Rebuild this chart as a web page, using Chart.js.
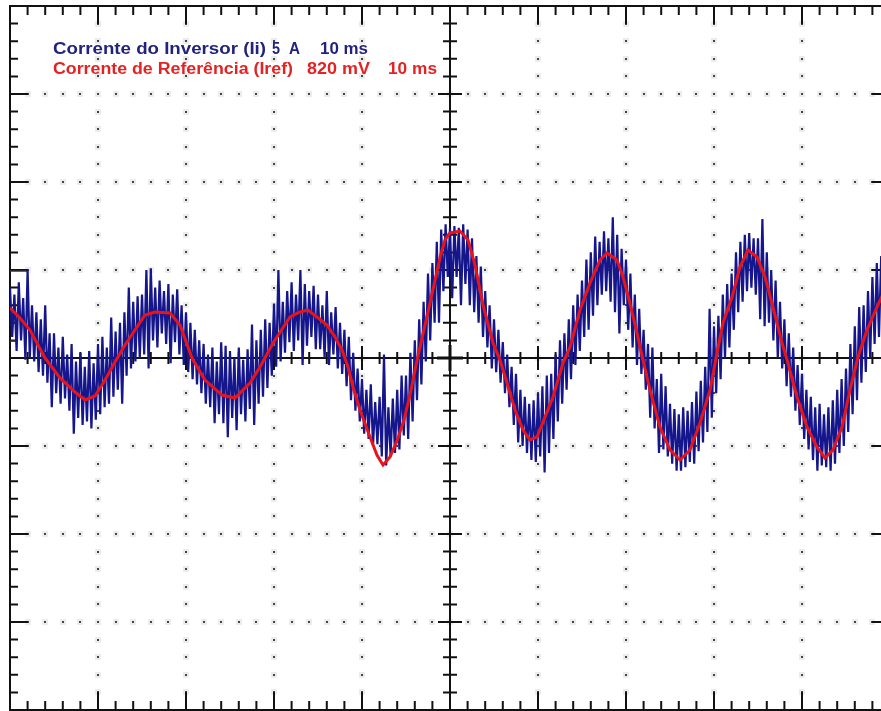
<!DOCTYPE html>
<html>
<head>
<meta charset="utf-8">
<title>Corrente do Inversor e Corrente de Referência</title>
<script src="https://cdn.jsdelivr.net/npm/chart.js@4.4.1/dist/chart.umd.min.js"></script>
<style>
  html, body { margin: 0; padding: 0; background: #ffffff; overflow: hidden; }
  #wrap { width: 900px; height: 711px; }
  canvas { display: block; }
</style>
</head>
<body>
<div id="wrap"><canvas id="scope" width="900" height="711"></canvas></div>
<script>
// Screen: 10 divisions of 10 ms, 8 divisions of 5 A (channel 1) / 820 mV (channel 2)
const timePerDivMs = 10;
const ampsPerDiv = 5;
const mvPerDiv = 820;
const hDivs = 10;
const vDivs = 8;

// Channel 2: reference current Ir.ef (mV) at the given instants (ms)
const redTimeMs = [
  0, 1.14, 2.27, 3.98, 5.68, 7.39, 8.52, 9.66, 10.8, 11.93,
  13.07, 14.2, 15.34, 16.48, 18.18, 19.32, 20.68, 22.16, 24.09, 25.57,
  27.27, 28.41, 29.89, 31.82, 32.95, 33.86, 34.89, 36.02, 36.93, 37.73,
  38.41, 38.98, 39.77, 40.91, 41.7, 42.39, 43.18, 43.98, 44.77, 45.45,
  46.14, 46.82, 47.5, 48.18, 48.86, 49.43, 50.0, 51.14, 52.05, 52.84,
  53.75, 54.89, 55.68, 56.48, 57.39, 58.3, 59.09, 59.89, 60.8, 61.7,
  62.84, 63.64, 64.77, 65.91, 67.05, 67.84, 68.98, 69.66, 70.45, 71.25,
  71.93, 72.73, 73.86, 75.0, 76.14, 77.27, 78.41, 79.55, 80.34, 81.02,
  82.05, 82.95, 83.86, 84.89, 85.8, 86.7, 87.73, 88.41, 89.43, 90.57,
  91.7, 92.61, 93.52, 94.55, 95.45, 96.36, 97.39, 98.52, 99.43
];
const redMv = [
  466, 373, 261, 0, -186, -317, -391, -354, -205, -37,
  121, 261, 401, 429, 419, 307, 0, -205, -345, -373,
  -233, -84, 140, 382, 429, 447, 382, 307, 196, 75,
  -84, -270, -485, -736, -904, -997, -922, -773, -578, -345,
  -65, 186, 429, 680, 932, 1100, 1165, 1183, 1100, 867,
  494, 140, -19, -233, -485, -671, -764, -736, -550, -363,
  -47, 102, 447, 699, 913, 978, 913, 755, 512, 233,
  -19, -298, -643, -857, -950, -857, -606, -298, 47, 326,
  568, 848, 1006, 941, 755, 475, 140, -47, -363, -643,
  -829, -932, -857, -643, -298, 9, 261, 475, 634
];

// Channel 1: inverter current Ii (A), one high and one low sample per 0.5 ms step
const blueStepMs = 0.5;
const blueHighA = [
  4.0, 3.6, 4.3, 3.4, 5.0, 3.0, 2.6, 2.2, 3.0, 1.4,
  1.4, 0.6, 1.2, 0.2, 0.8, -0.2, 0.3, -0.5, 0.4, -0.3,
  0.8, 1.2, 0.6, 2.3, 1.5, 2.0, 2.6, 4.0, 3.2, 3.5,
  3.6, 5.0, 5.1, 4.0, 4.4, 3.8, 4.2, 3.6, 3.9, 3.0,
  2.6, 2.0, 1.6, 1.0, 0.8, 0.2, 0.6, -0.2, 0.9, 0.7,
  0.4, 0.0, 0.6, -0.1, 0.5, 1.9, 1.0, 1.6, 2.2, 2.0,
  3.1, 5.0, 3.2, 3.8, 4.3, 3.6, 5.0, 4.2, 3.8, 4.1,
  3.6, 3.0, 3.8, 2.6, 2.9, 2.0, 1.6, 1.2, 0.3, -0.6,
  -1.2, -1.8, -1.5, -2.5, -2.2, 0.2, -2.8, -2.3, -1.8, -1.0,
  -1.0, 0.3, 1.0, 2.2, 3.2, 4.8, 5.4, 6.6, 7.3, 7.6,
  7.4, 7.5, 7.4, 7.6, 7.3, 6.8, 5.8, 5.2, 3.8, 3.0,
  2.2, 1.6, 0.9, 0.2, -0.5, -0.9, -1.8, -2.2, -2.6, -2.4,
  -2.0, -1.6, -1.0, -0.9, 0.2, 1.0, 1.4, 2.2, 3.0, 3.6,
  4.4, 5.6, 6.0, 6.9, 6.6, 7.2, 6.8, 8.0, 7.0, 6.2,
  5.6, 4.8, 3.6, 2.8, 1.6, 0.8, 0.6, -1.2, -0.9, -1.6,
  -2.6, -2.9, -3.2, -2.8, -3.0, -2.5, -1.9, -1.3, -0.5, 2.8,
  1.8, 2.4, 3.6, 4.2, 4.8, 6.0, 6.6, 7.0, 7.1, 6.8,
  6.8, 7.9, 6.0, 5.0, 4.4, 3.2, 2.2, 1.4, 0.6, -0.4,
  -0.9, -1.8, -2.2, -2.8, -2.6, -3.2, -2.8, -2.4, -1.8, -1.2,
  -0.6, 0.8, 1.8, 2.9, 3.0, 3.8, 4.6, 5.4, 5.8, 6.0
];
const blueLowA = [
  1.2, 0.4, 1.0, -0.1, 0.0, -0.2, -0.8, -1.0, -1.4, -2.8,
  -2.0, -2.6, -2.3, -3.0, -4.3, -3.4, -3.8, -3.6, -4.0, -3.5,
  -3.2, -2.8, -2.6, -2.2, -1.8, -2.6, -1.0, -0.6, -0.2, 0.0,
  0.2, -0.6, 1.0, 0.6, 1.4, 0.8, -0.3, 0.9, 0.2, -0.4,
  -0.8, -1.2, -1.5, -2.0, -2.6, -2.8, -3.7, -3.2, -3.7, -4.5,
  -3.4, -4.1, -3.2, -3.6, -2.9, -3.8, -2.6, -2.2, -1.7, -1.0,
  -0.5, -0.2, 0.3, 0.9, 0.4, 1.0, -0.4, 0.7, 1.2, 0.5,
  0.5, 0.0, -0.4, 0.2, -0.6, -0.9, -1.6, -2.4, -3.0, -3.6,
  -4.3, -4.6, -5.0, -4.9, -5.6, -6.1, -5.6, -5.4, -5.2, -4.4,
  -4.6, -3.6, -2.4, -1.5, -0.2, 1.0, 2.0, 2.0, 3.8, 4.6,
  3.4, 4.6, 3.0, 4.2, 3.0, 2.6, 2.0, 1.2, 0.6, -0.6,
  -0.8, -1.4, -2.0, -2.8, -3.8, -4.8, -5.0, -5.4, -5.8, -5.9,
  -5.6, -6.5, -5.4, -4.6, -3.6, -2.6, -1.8, -1.2, -0.4, 0.4,
  1.2, 1.6, 2.4, 3.0, 3.6, 3.8, 3.2, 2.6, 1.4, 3.0,
  1.6, 0.6, -0.4, -0.9, -1.8, -3.4, -4.0, -5.4, -5.2, -5.6,
  -6.0, -6.4, -6.4, -6.2, -5.9, -6.0, -5.3, -4.8, -4.2, -3.4,
  -2.0, -1.2, 0.0, 0.6, 1.6, 2.6, 3.2, 3.8, 4.0, 3.6,
  2.2, 1.8, 2.0, 1.0, 0.0, -0.6, -1.6, -2.2, -3.0, -3.8,
  -4.6, -5.2, -5.8, -6.4, -6.1, -6.2, -6.4, -6.0, -5.4, -5.0,
  -4.2, -3.2, -2.4, -1.4, -0.8, 0.0, 0.8, 1.2, 1.8, 2.2
];

// Channel labels shown in the upper-left corner
const channelLabels = [
  { color: '#23237e', parts: [
    { text: 'Corrente do Inversor (Ii)', x: 53, w: 213 },
    { text: '5', x: 272, w: 8 },
    { text: 'A', x: 289, w: 11 },
    { text: '10 ms', x: 320, w: 48 }
  ], baseline: 54 },
  { color: '#e42222', parts: [
    { text: 'Corrente de Referência (Iref)', x: 53, w: 240 },
    { text: '820 mV', x: 307, w: 63 },
    { text: '10 ms', x: 388, w: 49 }
  ], baseline: 74 }
];

// Build the point lists
const redPoints = redTimeMs.map((t, i) => ({ x: t, y: redMv[i] }));
const bluePoints = [];
blueHighA.forEach((hi, i) => {
  bluePoints.push({ x: i * blueStepMs, y: hi });
  bluePoints.push({ x: i * blueStepMs + blueStepMs / 2, y: blueLowA[i] });
});

// Oscilloscope graticule: border, centre axes with ticks, dotted division lines
const graticule = {
  id: 'graticule',
  beforeDatasetsDraw(chart) {
    const { ctx, scales } = chart;
    const sx = scales.x, sy = scales.y;
    const xMin = 0, xMax = hDivs * timePerDivMs;
    const yMax = vDivs / 2 * ampsPerDiv, yMin = -yMax;
    const xMinor = timePerDivMs / 5, yMinor = ampsPerDiv / 5;
    const L = sx.getPixelForValue(xMin), R = sx.getPixelForValue(xMax);
    const T = sy.getPixelForValue(yMax), B = sy.getPixelForValue(yMin);
    const cx = sx.getPixelForValue(xMax / 2), cy = sy.getPixelForValue(0);
    ctx.save();
    // dotted division lines (soft halo, then the dot)
    const dot = (px, py) => {
      ctx.fillStyle = '#ececec';
      ctx.fillRect(Math.round(px) - 3, Math.round(py) - 3, 6, 6);
      ctx.fillStyle = '#444444';
      ctx.fillRect(Math.round(px) - 1, Math.round(py) - 1, 2, 2);
    };
    for (let d = 1; d < hDivs; d++) {
      if (d === hDivs / 2) continue;
      const px = sx.getPixelForValue(d * timePerDivMs);
      for (let k = 1; k < vDivs * 5; k++) {
        dot(px, sy.getPixelForValue(yMin + k * yMinor));
      }
    }
    for (let d = 1; d < vDivs; d++) {
      if (d === vDivs / 2) continue;
      const py = sy.getPixelForValue(yMin + d * ampsPerDiv);
      for (let k = 1; k < hDivs * 5; k++) {
        dot(sx.getPixelForValue(k * xMinor), py);
      }
    }
    ctx.strokeStyle = '#111111';
    ctx.lineWidth = 2;
    ctx.beginPath();
    // centre axes
    ctx.moveTo(L, cy); ctx.lineTo(R, cy);
    ctx.moveTo(cx, T); ctx.lineTo(cx, B);
    // ticks along the centre horizontal axis
    for (let k = 1; k < hDivs * 5; k++) {
      const px = sx.getPixelForValue(k * xMinor);
      const len = (k % 5 === 0) ? 12 : 6;
      ctx.moveTo(px, cy - len); ctx.lineTo(px, cy + len);
    }
    // ticks along the centre vertical axis
    for (let k = 1; k < vDivs * 5; k++) {
      const py = sy.getPixelForValue(yMin + k * yMinor);
      const len = (k % 5 === 0) ? 12 : 7;
      ctx.moveTo(cx - len, py); ctx.lineTo(cx + len, py);
    }
    // border ticks
    for (let k = 1; k < hDivs * 5; k++) {
      const px = sx.getPixelForValue(k * xMinor);
      const len = (k % 5 === 0) ? 18 : 9;
      ctx.moveTo(px, T); ctx.lineTo(px, T + len);
      ctx.moveTo(px, B); ctx.lineTo(px, B - len);
    }
    for (let k = 1; k < vDivs * 5; k++) {
      const py = sy.getPixelForValue(yMin + k * yMinor);
      const len = (k % 5 === 0) ? 18 : 8;
      ctx.moveTo(L, py); ctx.lineTo(L + len, py);
      ctx.moveTo(R, py); ctx.lineTo(R - len, py);
    }
    ctx.stroke();
    // border
    ctx.lineWidth = 2;
    ctx.strokeRect(L, T, R - L, B - T);
    // thicker centre cross
    ctx.lineWidth = 3;
    ctx.beginPath();
    ctx.moveTo(cx - 13, cy); ctx.lineTo(cx + 13, cy);
    ctx.moveTo(cx, cy - 13); ctx.lineTo(cx, cy + 13);
    ctx.stroke();
    // channel 1 ground marker
    ctx.lineWidth = 1.5;
    ctx.strokeStyle = '#333333';
    ctx.beginPath();
    ctx.moveTo(L, 271); ctx.lineTo(L + 17, 271);
    ctx.moveTo(L, 341); ctx.lineTo(L + 8, 341);
    ctx.stroke();
    ctx.restore();
  },
  afterDraw(chart) {
    const { ctx } = chart;
    ctx.save();
    ctx.font = 'bold 16px "Liberation Sans", Arial, sans-serif';
    ctx.textBaseline = 'alphabetic';
    channelLabels.forEach(line => {
      ctx.fillStyle = line.color;
      line.parts.forEach(p => {
        const w = ctx.measureText(p.text).width;
        ctx.save();
        ctx.translate(p.x, line.baseline);
        ctx.scale(p.w / w, 1);
        ctx.fillText(p.text, 0, 0);
        ctx.restore();
      });
    });
    ctx.restore();
  }
};

new Chart(document.getElementById('scope'), {
  type: 'line',
  data: {
    datasets: [
      {
        label: 'Corrente de Referência (Iref)',
        data: redPoints,
        yAxisID: 'y2',
        borderColor: '#e8141c',
        borderWidth: 3,
        pointRadius: 0,
        tension: 0,
        order: 1
      },
      {
        label: 'Corrente do Inversor (Ii)',
        data: bluePoints,
        yAxisID: 'y',
        borderColor: '#16168c',
        borderWidth: 2.2,
        pointRadius: 0,
        tension: 0,
        order: 2
      }
    ]
  },
  options: {
    responsive: false,
    animation: false,
    devicePixelRatio: 1,
    layout: { padding: { left: 10, top: 6, right: 10, bottom: 1 } },
    plugins: { legend: { display: false }, tooltip: { enabled: false } },
    scales: {
      x: { type: 'linear', min: 0, max: hDivs * timePerDivMs, display: false },
      y: { type: 'linear', min: -vDivs / 2 * ampsPerDiv, max: vDivs / 2 * ampsPerDiv, display: false },
      y2: { type: 'linear', min: -vDivs / 2 * mvPerDiv, max: vDivs / 2 * mvPerDiv, display: false }
    }
  },
  plugins: [graticule]
});
</script>
</body>
</html>
